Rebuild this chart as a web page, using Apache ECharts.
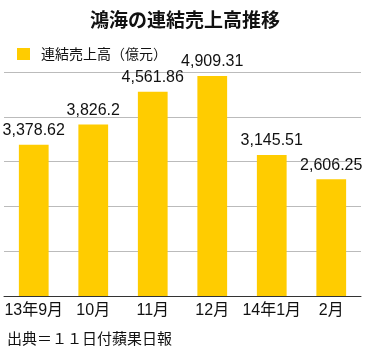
<!DOCTYPE html>
<html><head><meta charset="utf-8">
<script src="https://cdn.jsdelivr.net/npm/echarts@6/dist/echarts.min.js"></script>
<style>html,body{margin:0;padding:0;background:#fff}#c{width:370px;height:355px}</style>
</head><body><div id="c"></div>
<script>
const titleText = "鴻海の連結売上高推移";
const seriesName = "連結売上高（億元）";
const sourceText = "出典＝１１日付蘋果日報";
const categories = ["13年9月", "10月", "11月", "12月", "14年1月", "2月"];
const revenues = [3378.62, 3826.2, 4561.86, 4909.31, 3145.51, 2606.25];
const yMin = 0, yMax = 5000, yStep = 1000;

const numFont = "'Liberation Sans', 'Noto Sans CJK JP', sans-serif";
const jpFont = "'Noto Sans CJK JP', sans-serif";
const fmt = v => v.toLocaleString('en-US', {maximumFractionDigits: 2});

const chart = echarts.init(document.getElementById('c'), null, {renderer: 'canvas'});
chart.setOption({
  animation: false,
  backgroundColor: '#fff',
  title: {
    text: titleText, left: 'center', top: 5,
    textStyle: {fontFamily: jpFont, fontSize: 19, fontWeight: 'bold', color: '#111'}
  },
  legend: {
    data: [seriesName], left: 12, top: 42,
    itemWidth: 13, itemHeight: 12, itemGap: 10,
    icon: 'rect',
    textStyle: {fontFamily: jpFont, fontSize: 14, color: '#111', padding: [0, 0, 0, 6]}
  },
  graphic: [{
    type: 'text', left: 7, top: 331,
    style: {text: sourceText, font: "15px 'Noto Sans CJK JP', sans-serif", fill: '#111'}
  }],
  grid: {left: 4, right: 9, top: 72, bottom: 59, containLabel: false},
  xAxis: {
    type: 'category', data: categories,
    axisLine: {lineStyle: {color: '#333', width: 1}},
    axisTick: {show: false},
    axisLabel: {fontFamily: numFont, fontSize: 16, color: '#111', margin: 7, interval: 0}
  },
  yAxis: {
    type: 'value', min: yMin, max: yMax, interval: yStep,
    axisLabel: {show: false}, axisLine: {show: false}, axisTick: {show: false},
    splitLine: {lineStyle: {color: '#bbb', width: 1}}
  },
  series: [{
    name: seriesName, type: 'bar', data: revenues, barWidth: '50%',
    itemStyle: {color: '#FFCC00'},
    label: {
      show: true, position: 'top', distance: 6,
      fontFamily: numFont, fontSize: 16, color: '#111',
      formatter: p => fmt(p.value)
    }
  }]
});
</script></body></html>
